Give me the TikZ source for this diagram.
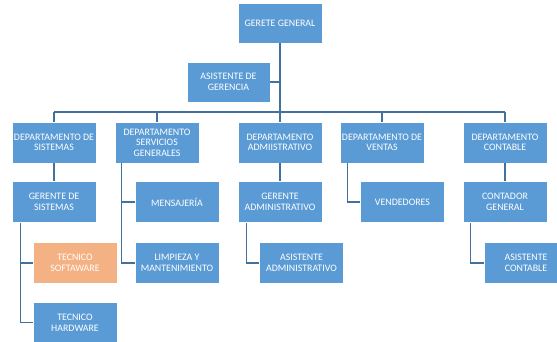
\documentclass[tikz,border=0pt]{standalone}
\usepackage{fontspec}
\setmainfont{Carlito}
\definecolor{boxblue}{RGB}{91,155,213}
\definecolor{boxorange}{RGB}{244,177,131}
\definecolor{linecol}{RGB}{65,113,156}
\begin{document}
\begin{tikzpicture}[x=1pt,y=-1pt,
  orgbox/.style={rectangle, fill=boxblue, draw=white, line width=0.8pt,
    minimum width=84pt, minimum height=41pt, inner sep=1pt, align=center,
    text=white, font=\fontsize{9.9}{10.6}\selectfont},
  orangebox/.style={orgbox, fill=boxorange},
  conn/.style={draw=linecol, line width=1.1pt},
  mainline/.style={draw=linecol, line width=2.4pt},
  busline/.style={draw=linecol, line width=1.6pt}]
\useasboundingbox (0,0) rectangle (557,342);
\node[orgbox, minimum height=40pt] (GG) at (280,23) {GERETE GENERAL};
\node[orgbox, minimum width=83pt, minimum height=40pt] (AG) at (228.5,82) {ASISTENTE DE\\GERENCIA};
\coordinate (bus) at (280,112);
% departments
\node[orgbox] (DS) at (54,142.5) {DEPARTAMENTO DE\\SISTEMAS};
\node[orgbox] (DSG) at (157,142.5) {DEPARTAMENTO\\SERVICIOS\\GENERALES};
\node[orgbox] (DA) at (280,142.5) {DEPARTAMENTO\\ADMIISTRATIVO};
\node[orgbox] (DV) at (382,142.5) {DEPARTAMENTO DE\\VENTAS};
\node[orgbox] (DC) at (505,142.5) {DEPARTAMENTO\\CONTABLE};
% third row
\node[orgbox] (GS) at (54,202) {GERENTE DE\\SISTEMAS};
\node[orgbox] (MEN) at (177,202) {MENSAJERÍA};
\node[orgbox] (GA) at (280,202) {GERENTE\\ADMINISTRATIVO};
\node[orgbox] (VEN) at (402.5,202) {VENDEDORES};
\node[orgbox] (CG) at (505,202) {CONTADOR\\GENERAL};
% fourth row
\node[orangebox] (TS) at (75,263) {TECNICO\\SOFTAWARE};
\node[orgbox] (LIM) at (177,263) {LIMPIEZA Y\\MANTENIMIENTO};
\node[orgbox] (AA) at (301.5,263) {ASISTENTE\\ADMINISTRATIVO};
\node[orgbox] (AC) at (526,263) {ASISTENTE\\CONTABLE};
\node[orgbox] (TH) at (75,322.5) {TECNICO\\HARDWARE};
% connectors
\draw[conn] (AG.east) -- (AG.east -| GG.south);
\draw[mainline] (GG.south) -- (bus);
\draw[busline] (DS.north |- bus) -- (DC.north |- bus);
\foreach \d in {DS,DSG,DA,DV,DC}{\draw[conn] (\d.north) -- (\d.north |- bus);}
\draw[conn] (DS) -- (GS);
\draw[conn] (DA) -- (GA);
\draw[conn] (DC) -- (CG);
\draw[conn] ([xshift=7pt]DSG.south west) |- (MEN.west);
\draw[conn] ([xshift=7pt]DSG.south west) |- (LIM.west);
\draw[conn] ([xshift=8pt]DV.south west) |- (VEN.west);
\draw[conn] ([xshift=9pt]GS.south west) |- (TS.west);
\draw[conn] ([xshift=9pt]GS.south west) |- (TH.west);
\draw[conn] ([xshift=9pt]GA.south west) |- (AA.west);
\draw[conn] ([xshift=8pt]CG.south west) |- (AC.west);
\end{tikzpicture}
\end{document}
